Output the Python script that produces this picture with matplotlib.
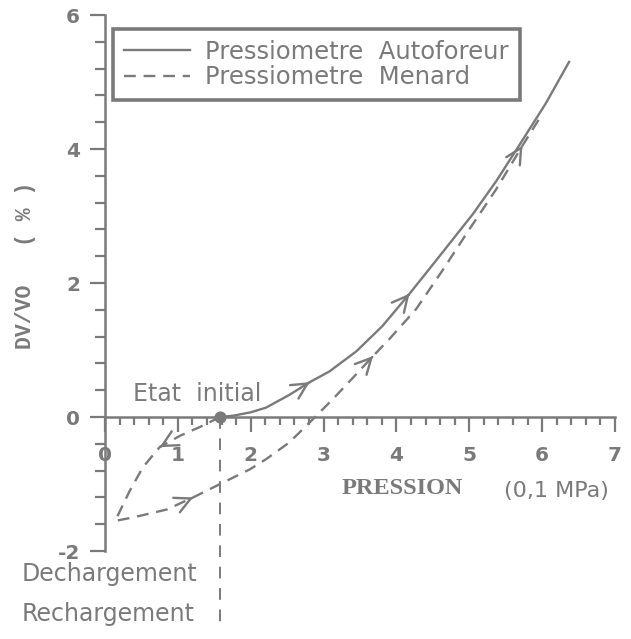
import matplotlib.pyplot as plt
import numpy as np

plt.rcParams["font.family"] = "DejaVu Sans"
plt.rcParams["axes.unicode_minus"] = False

GREY = "#7a7a7a"

# Pressiometre Autoforeur (solid)
auto_x = [1.58, 1.76, 2.0, 2.21, 2.53, 2.81, 3.08, 3.45, 3.81, 4.18, 4.54, 5.05, 5.37,
          5.70, 6.05, 6.37]
auto_y = [0.0, 0.02, 0.07, 0.14, 0.33, 0.52, 0.68, 0.98, 1.36, 1.84, 2.33, 3.03, 3.52,
          4.08, 4.68, 5.3]
auto_arrows = [5, 9]

# Pressiometre Menard (dashed): unload, reload, then load
men_x = [1.58, 1.3, 1.03, 0.75, 0.52, 0.34, 0.14, 0.38, 0.85, 1.21, 1.58, 1.99, 2.21,
         2.53, 2.81, 3.13, 3.45, 3.68, 3.9, 4.27, 4.64, 5.0, 5.37, 5.73, 5.96]
men_y = [0.0, -0.15, -0.28, -0.45, -0.75, -1.1, -1.55, -1.5, -1.38, -1.2, -1.0, -0.78,
         -0.63, -0.38, -0.08, 0.27, 0.64, 0.91, 1.16, 1.61, 2.2, 2.8, 3.4, 4.05, 4.45]
men_arrows = [3, 9, 17, 23]

etat_x, etat_y = 1.58, 0.0
guide_bottom = -3.12

x_ticks = [0, 1, 2, 3, 4, 5, 6, 7]
y_ticks = [-2, 0, 2, 4, 6]

fig = plt.figure(figsize=(6.31, 6.39), dpi=100, facecolor="white")
ax = fig.add_axes([0.1664, 0.1377, 0.8082, 0.8388])

ax.plot(auto_x, auto_y, color=GREY, lw=1.7, label="Pressiometre  Autoforeur", zorder=3)
ax.plot(men_x, men_y, color=GREY, lw=1.7, dashes=(5, 3.3),
        label="Pressiometre  Menard", zorder=3)


def add_arrows(xs, ys, idx):
    for i in idx:
        x1, y1 = xs[i], ys[i]
        x0 = x1 - 0.05 * (x1 - xs[i - 1])
        y0 = y1 - 0.05 * (y1 - ys[i - 1])
        ax.annotate("", xy=(x1, y1), xytext=(x0, y0),
                    arrowprops=dict(arrowstyle="->,head_length=0.75,head_width=0.38",
                                    color=GREY, lw=1.7, shrinkA=0, shrinkB=0,
                                    mutation_scale=15))


add_arrows(auto_x, auto_y, auto_arrows)
add_arrows(men_x, men_y, men_arrows)

ax.scatter([etat_x], [etat_y], s=60, color=GREY, zorder=5, clip_on=False)
ax.plot([etat_x, etat_x], [etat_y, guide_bottom], color=GREY, lw=1.4,
        dashes=(6, 5), clip_on=False)

ax.set_xlim(0, 7)
ax.set_ylim(-2, 6)
ax.spines["bottom"].set_position(("data", 0))
for s in ["top", "right"]:
    ax.spines[s].set_visible(False)
for s in ["bottom", "left"]:
    ax.spines[s].set_color(GREY)
    ax.spines[s].set_linewidth(1.8)

ax.set_xticks(x_ticks)
ax.set_xticks(np.arange(0, 7.01, 0.2), minor=True)
ax.set_yticks(y_ticks)
ax.set_yticks(np.arange(-2, 6.01, 0.4), minor=True)
ax.tick_params(which="both", direction="out", color=GREY, width=1.6)
ax.tick_params(axis="x", which="major", length=11, pad=10)
ax.tick_params(axis="x", which="minor", length=6)
ax.tick_params(axis="y", which="major", length=11, pad=7)
ax.tick_params(axis="y", which="minor", length=7)
for lab in ax.get_xticklabels() + ax.get_yticklabels():
    lab.set_fontsize(14.5)
    lab.set_fontweight("bold")
    lab.set_color(GREY)

ax.text(1.26, 0.34, "Etat  initial", fontsize=17, color=GREY, ha="center", va="center")
ax.text(4.08, -1.07, "PRESSION", fontsize=17.5, fontweight="bold", family="Liberation Serif",
        color=GREY, ha="center", va="center")
ax.text(6.19, -1.10, "(0,1 MPa)", fontsize=16, color=GREY, ha="center", va="center")
ax.text(-1.14, -2.34, "Dechargement", fontsize=17, color=GREY, ha="left", va="center",
        clip_on=False)
ax.text(-1.14, -2.94, "Rechargement", fontsize=17, color=GREY, ha="left", va="center",
        clip_on=False)

fig.text(26 / 631, 1 - 265 / 639, "DV/VO   ( % )", rotation=90, fontsize=15.5,
         fontweight="bold", family="Liberation Mono", color=GREY, ha="center", va="center")

leg = ax.legend(loc="upper left", bbox_to_anchor=(0.0157, 0.974), borderaxespad=0,
                frameon=True, fancybox=False, edgecolor=GREY, framealpha=1, fontsize=17.5,
                handlelength=2.7, handletextpad=0.65, borderpad=0.45, labelspacing=0.05,
                labelcolor=GREY)
leg.get_frame().set_linewidth(2.6)

fig.savefig("out.png", dpi=100, facecolor="white")
